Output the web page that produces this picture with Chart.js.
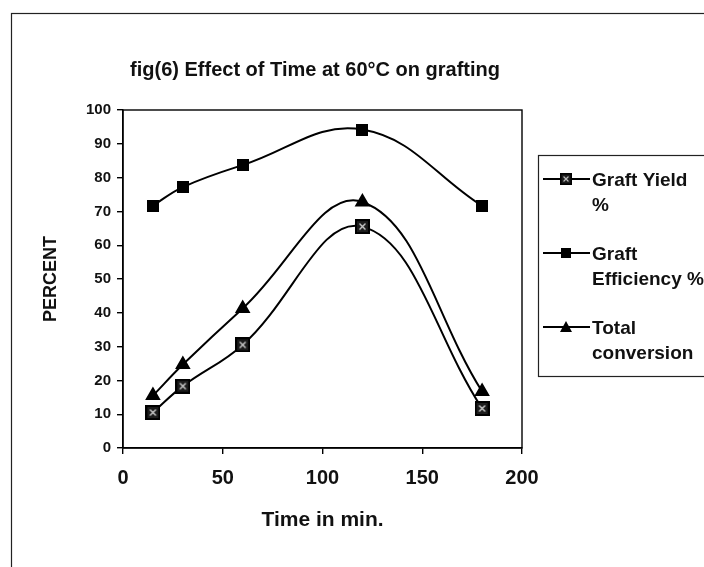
<!DOCTYPE html>
<html>
<head>
<meta charset="utf-8">
<script src="https://cdn.jsdelivr.net/npm/chart.js@4.4.0/dist/chart.umd.min.js"></script>
<style>
  html, body { margin: 0; padding: 0; background: #fff; }
  #wrap { position: relative; width: 704px; height: 567px; }
</style>
</head>
<body>
<div id="wrap"><canvas id="chart" width="704" height="567"></canvas></div>
<script>
const TITLE = "fig(6) Effect of Time at 60°C on grafting";
const X_TITLE = "Time in min.";
const Y_TITLE = "PERCENT";

const times = [15, 30, 60, 120, 180];
const graftYield = [10.5, 18.3, 30.5, 65.5, 11.7];
const graftEfficiency = [71.7, 77.2, 83.7, 94.2, 71.6];
const totalConversion = [15.5, 24.7, 41.3, 72.8, 16.7];

const seriesLabels = [
  ["Graft Yield", "%"],
  ["Graft", "Efficiency %"],
  ["Total", "conversion"],
];

const FONT = "Arial, 'Liberation Sans', sans-serif";
const INK = "#111";

// marker images
function makeYieldMarker() {
  const c = document.createElement("canvas");
  c.width = 15; c.height = 15;
  const g = c.getContext("2d");
  g.fillStyle = "#1c1c1c";
  g.fillRect(0, 0, 15, 15);
  g.strokeStyle = "#000";
  g.lineWidth = 2;
  g.strokeRect(1, 1, 13, 13);
  g.strokeStyle = "#cfcfcf";
  g.lineWidth = 1.4;
  g.beginPath();
  g.moveTo(4.5, 4.5); g.lineTo(10.5, 10.5);
  g.moveTo(10.5, 4.5); g.lineTo(4.5, 10.5);
  g.stroke();
  return c;
}
function makeSquareMarker() {
  const c = document.createElement("canvas");
  c.width = 12; c.height = 12;
  const g = c.getContext("2d");
  g.fillStyle = "#000";
  g.fillRect(0, 0, 12, 12);
  return c;
}
const yieldMarker = makeYieldMarker();
const squareMarker = makeSquareMarker();

function toPoints(ys) {
  return times.map((t, i) => ({ x: t, y: ys[i] }));
}

const frameAndText = {
  id: "frameAndText",
  beforeDraw(chart) {
    const ctx = chart.ctx;
    const a = chart.chartArea;
    ctx.save();
    ctx.fillStyle = "#fff";
    ctx.fillRect(0, 0, chart.width, chart.height);
    ctx.strokeStyle = "#222";
    ctx.lineWidth = 1.2;
    ctx.strokeRect(11.5, 13.5, 800, 700);
    ctx.strokeStyle = "#000";
    ctx.lineWidth = 1.4;
    ctx.strokeRect(a.left, a.top, a.right - a.left, a.bottom - a.top);
    ctx.restore();
  },
  afterDraw(chart) {
    const ctx = chart.ctx;
    ctx.save();
    ctx.fillStyle = INK;
    ctx.font = "bold 20px " + FONT;
    ctx.textAlign = "center";
    ctx.textBaseline = "alphabetic";
    ctx.fillText(TITLE, 315, 76);

    // legend
    const bx = 538, by = 155, bh = 221;
    ctx.strokeStyle = "#222";
    ctx.lineWidth = 1.2;
    ctx.strokeRect(bx + 0.5, by + 0.5, 200, bh);
    ctx.font = "bold 19px " + FONT;
    ctx.textAlign = "left";
    chart.data.datasets.forEach((ds, i) => {
      const my = 179 + i * 74;
      ctx.strokeStyle = "#000";
      ctx.lineWidth = 2;
      ctx.beginPath();
      ctx.moveTo(543, my);
      ctx.lineTo(590, my);
      ctx.stroke();
      const ps = ds.pointStyle;
      if (ps === "triangle") {
        ctx.fillStyle = "#000";
        ctx.beginPath();
        ctx.moveTo(566, my - 6);
        ctx.lineTo(572, my + 5);
        ctx.lineTo(560, my + 5);
        ctx.closePath();
        ctx.fill();
      } else {
        const w = ps.width * 0.8, h = ps.height * 0.8;
        ctx.drawImage(ps, 566 - w / 2, my - h / 2, w, h);
      }
      ctx.fillStyle = INK;
      seriesLabels[i].forEach((line, j) => {
        ctx.fillText(line, 592, my + 7 + j * 25);
      });
    });
    ctx.restore();
  },
};

const lineBase = {
  borderColor: "#000",
  backgroundColor: "#000",
  borderWidth: 2,
  tension: 0.4,
  pointBorderColor: "#000",
  pointBackgroundColor: "#000",
};

new Chart(document.getElementById("chart").getContext("2d"), {
  type: "line",
  data: {
    datasets: [
      { ...lineBase, label: seriesLabels[0].join(" "), data: toPoints(graftYield), pointStyle: yieldMarker },
      { ...lineBase, label: seriesLabels[1].join(" "), data: toPoints(graftEfficiency), pointStyle: squareMarker },
      { ...lineBase, label: seriesLabels[2].join(" "), data: toPoints(totalConversion), pointStyle: "triangle", pointRadius: 7 },
    ],
  },
  options: {
    responsive: false,
    animation: false,
    layout: { padding: { top: 110, right: 182, bottom: 0, left: 0 } },
    plugins: {
      legend: { display: false },
      tooltip: { enabled: false },
    },
    scales: {
      x: {
        type: "linear",
        min: 0,
        max: 200,
        ticks: { stepSize: 50, color: INK, font: { family: FONT, size: 20, weight: "bold" }, padding: 12, maxRotation: 0 },
        grid: { drawOnChartArea: false, color: "#000", tickLength: 6, lineWidth: 1.4 },
        border: { color: "#000", width: 1.4 },
        title: { display: true, text: X_TITLE, color: INK, font: { family: FONT, size: 21, weight: "bold" }, padding: { top: 0, bottom: 34 } },
        afterFit(s) { s.height = 119; },
      },
      y: {
        min: 0,
        max: 100,
        ticks: { stepSize: 10, color: INK, font: { family: FONT, size: 15, weight: "bold" }, padding: 6 },
        grid: { drawOnChartArea: false, color: "#000", tickLength: 6, lineWidth: 1.4 },
        border: { color: "#000", width: 1.4 },
        title: { display: true, text: Y_TITLE, color: INK, font: { family: FONT, size: 18, weight: "bold" }, padding: { top: 40, bottom: 0 } },
        afterFit(s) { s.width = 123; },
      },
    },
  },
  plugins: [frameAndText],
});
</script>
</body>
</html>
